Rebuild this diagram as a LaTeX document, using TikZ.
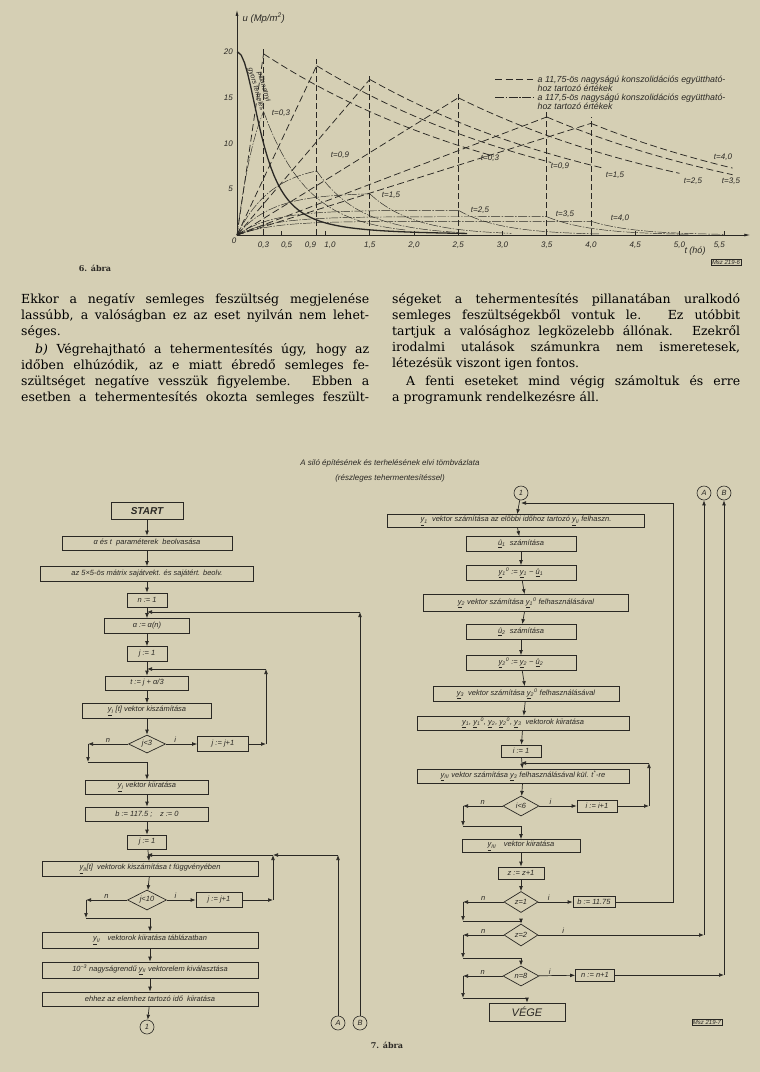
\documentclass[tikz,border=0pt]{standalone}
\usepackage{fontspec}
\setmainfont{DejaVu Serif}
\setsansfont{Liberation Sans}
\usetikzlibrary{positioning}
\usetikzlibrary{arrows.meta}
\usetikzlibrary{shapes.geometric}
\definecolor{paperbg}{HTML}{D5CFB4}
\definecolor{inkgray}{HTML}{2A2824}
\newcommand\flowfont{\sffamily\itshape\fontsize{7.5}{9}\selectfont}
\newcommand\bodyfont{\fontsize{12.5}{15}\selectfont}
\newcommand\vy[1]{\underline{y}\textsubscript{#1}}
\newcommand\vyo[1]{\underline{y}\textsubscript{#1}\textsuperscript{0}}
\newcommand\vu[1]{\underline{û}\textsubscript{#1}}
\newcommand\sorkiz[4]{\node[anchor=base west, inner sep=0pt, font=\bodyfont] (#1) at (#2,#3) {\makebox[348pt][s]{#4}};}
\newcommand\sorveg[4]{\node[anchor=base west, inner sep=0pt, font=\bodyfont] (#1) at (#2,#3) {#4};}

\begin{document}
\begin{tikzpicture}[x=1pt,y=-1pt]
    % Stílusok
    \tikzset{
        flow box/.style={
            draw=inkgray,
            rectangle,
            line width=0.7pt,
            inner sep=1pt,
            text=inkgray,
            font=\flowfont
        },
        flow dec/.style={
            draw=inkgray,
            diamond,
            aspect=2,
            line width=0.7pt,
            inner sep=0pt,
            text=inkgray,
            font=\flowfont
        },
        flow conn/.style={
            draw=inkgray,
            circle,
            line width=0.6pt,
            minimum size=14pt,
            inner sep=0pt,
            text=inkgray,
            font=\flowfont
        },
        flow line/.style={draw=inkgray, line width=0.7pt},
        flow arrow/.style={flow line, -{Latex[length=5pt,width=3.8pt]}},
        flow label/.style={font=\flowfont, text=inkgray, inner sep=1pt},
        plot label/.style={font=\sffamily\itshape\fontsize{8}{9.5}\selectfont, text=inkgray, inner sep=0.5pt},
        curve a/.style={inkgray, line width=0.75pt, dash pattern=on 7pt off 3.5pt},
        curve b/.style={inkgray, line width=0.45pt, dash pattern=on 9pt off 1.5pt on 1.5pt off 1.5pt}
    }

    % Háttér
    \fill[paperbg] (0,0) rectangle (760,1072);

    % Diagram (6. ábra)
    \begin{scope}[shift={(237,235)},x=88.5pt,y=9.15pt]
        \draw[inkgray, line width=0.8pt, -{Latex[length=6pt,width=3pt]}] (0,0) -- (5.8,0);
        \draw[inkgray, line width=0.8pt, -{Latex[length=6pt,width=3pt]}] (0,0) -- (0,24.6);
        \foreach \u in {5,10,15,20}
            \node[plot label, anchor=east] (yt\u) at (-0.04,\u) {\u};
        \node[plot label, anchor=north east] (yt0) at (0,-0.2) {0};
        \foreach \t/\s [count=\k] in {0.3/{0,3}, 0.56/{0,5}, 0.83/{0,9}, 1.05/{1,0}, 1.5/{1,5}, 2.0/{2,0},
                2.5/{2,5}, 3.0/{3,0}, 3.5/{3,5}, 4.0/{4,0}, 4.5/{4,5}, 5.0/{5,0}, 5.45/{5,5}}
            \node[plot label, anchor=north] (xt\k) at (\t,-0.7) {\s};
        \foreach \t in {0.5,1.0,2.0,3.0,4.5,5.0,5.5}
            \draw[inkgray, line width=0.5pt] (\t,0) -- (\t,0.4);

        % pillanatnyi terhelés
        \draw[inkgray, line width=1.3pt] (0,20) -- plot[domain=0.01:2.6, samples=70]
            (\x,{20/(1+(\x/0.3)^2.2)});

        % 11,75-ös együttható
        \foreach \tz/\pk/\te in {0.3/19.8/2.9, 0.9/18.5/3.55, 1.5/17/4.15, 2.5/15/5.0, 3.5/12.9/5.6, 4.0/12.2/5.6} {
            \draw[inkgray, line width=0.6pt, dash pattern=on 6pt off 3pt] (\tz,0) -- (\tz,\pk+0.7);
            \draw[curve a] (0,0) -- (\tz,\pk);
            \draw[curve a] plot[domain=\tz:\te, samples=20] (\x,{\pk*exp(-0.32*(\x-\tz))});
        }

        % 117,5-ös együttható
        \foreach \tz/\pk/\c/\te in {0.3/13.5/4/1.9, 0.9/7/2.5/2.5, 1.5/4.5/2.5/3.1, 2.5/2.7/2.5/4.1, 3.5/2.0/2.5/5.1, 4.0/1.5/2.5/5.5} {
            \draw[curve b] plot[domain=0:\tz, samples=30] (\x,{\pk*(1-exp(-\c*\x))/(1-exp(-\c*\tz))});
            \draw[curve b] plot[domain=\tz:\te, samples=25] (\x,{\pk*exp(-2.0*(\x-\tz))});
        }
    \end{scope}

    \node[plot label, rotate=-74, align=center, font=\sffamily\itshape\fontsize{7}{8}\selectfont] (pill) at (260,88) {pillanatnyi\\ gyors terhelés};
    \node[plot label, anchor=west, font=\sffamily\itshape\fontsize{9.5}{11}\selectfont] (ulab) at (242,18) {u (Mp/m\textsuperscript{2})};
    \node[plot label, font=\sffamily\itshape\fontsize{9}{11}\selectfont] (tlab) at (695,251) {t (hó)};
    \node[plot label, draw=inkgray, line width=0.5pt, inner sep=1pt, font=\sffamily\itshape\fontsize{6}{7}\selectfont] (msz6) at (726,262) {Msz 219-6};

    % görbék feliratai
    \node[plot label] (la1) at (490,158) {t=0,3};
    \node[plot label] (la2) at (560,166) {t=0,9};
    \node[plot label] (la3) at (615,175) {t=1,5};
    \node[plot label] (la4) at (693,181) {t=2,5};
    \node[plot label] (la5) at (731,181) {t=3,5};
    \node[plot label] (la6) at (723,157) {t=4,0};
    \node[plot label] (lb1) at (281,113) {t=0,3};
    \node[plot label] (lb2) at (340,155) {t=0,9};
    \node[plot label] (lb3) at (391,195) {t=1,5};
    \node[plot label] (lb4) at (480,210) {t=2,5};
    \node[plot label] (lb5) at (565,214) {t=3,5};
    \node[plot label] (lb6) at (620,218) {t=4,0};

    % jelmagyarázat
    \coordinate (lga1) at (495,79);
    \coordinate (lga2) at (533,79);
    \coordinate (lgb1) at (495,97);
    \coordinate (lgb2) at (533,97);
    \draw[curve a] (lga1) -- (lga2);
    \draw[curve b] (lgb1) -- (lgb2);
    \node[plot label, anchor=west, align=left, font=\sffamily\itshape\fontsize{8.8}{9.2}\selectfont] (lgat) at (537,83.5) {a 11,75-ös nagyságú konszolidációs együttható-\\hoz tartozó értékek};
    \node[plot label, anchor=west, align=left, font=\sffamily\itshape\fontsize{8.8}{9.2}\selectfont] (lgbt) at (537,101.5) {a 117,5-ös nagyságú konszolidációs együttható-\\hoz tartozó értékek};

    \node[font=\bfseries\fontsize{8}{10}\selectfont, text=inkgray] (abra6) at (95,268) {6. ábra};

    % Szöveg
    \sorkiz{l1}{21}{303}{Ekkor a negatív semleges feszültség megjelenése}
    \sorkiz{l2}{21}{319}{lassúbb, a valóságban ez az eset nyilván nem lehet-}
    \sorveg{l3}{21}{335}{séges.}
    \sorkiz{l4}{21}{353}{\hspace{14pt}\textit{b)} Végrehajtható a tehermentesítés úgy, hogy az}
    \sorkiz{l5}{21}{369}{időben elhúzódik, az e miatt ébredő semleges fe-}
    \sorkiz{l6}{21}{385}{szültséget negatíve vesszük figyelembe. Ebben a}
    \sorkiz{l7}{21}{401}{esetben a tehermentesítés okozta semleges feszült-}
    \sorkiz{r1t}{392}{303}{ségeket a tehermentesítés pillanatában uralkodó}
    \sorkiz{r2t}{392}{319}{semleges feszültségekből vontuk le. Ez utóbbit}
    \sorkiz{r3t}{392}{335}{tartjuk a valósághoz legközelebb állónak. Ezekről}
    \sorkiz{r4t}{392}{351}{irodalmi utalások számunkra nem ismeretesek,}
    \sorveg{r5t}{392}{367}{létezésük viszont igen fontos.}
    \sorkiz{r6t}{392}{385}{\hspace{14pt}A fenti eseteket mind végig számoltuk és erre}
    \sorveg{r7t}{392}{401}{a programunk rendelkezésre áll.}

    % Tömbvázlat
    \node[flow label, font=\sffamily\itshape\fontsize{8}{9.5}\selectfont] (cim1) at (390,463) {A siló építésének és terhelésének elvi tömbvázlata};
    \node[flow label, font=\sffamily\itshape\fontsize{8}{9.5}\selectfont] (cim2) at (390,478) {(részleges tehermentesítéssel)};

    % bal oszlop
    \node[flow box, minimum width=72pt, minimum height=17pt, font=\sffamily\itshape\bfseries\fontsize{10}{12}\selectfont] (start) at (147,511) {START};
    \node[flow box, minimum width=170pt, minimum height=14pt] (beolv) at (147,543) {α és t\ \ paraméterek\ \ beolvasása};
    \node[flow box, minimum width=213pt, minimum height=15pt] (matrix) at (147,574) {az 5×5-ös mátrix sajátvekt. és sajátért. beolv.};
    \node[flow box, minimum width=40pt, minimum height=14pt] (n1) at (147,600) {n := 1};
    \node[flow box, minimum width=85pt, minimum height=15pt] (alfa) at (147,626) {α := α(n)};
    \node[flow box, minimum width=40pt, minimum height=15pt] (j1a) at (147,654) {j := 1};
    \node[flow box, minimum width=83pt, minimum height=14pt] (tset) at (147,683) {t := j + α/3};
    \node[flow box, minimum width=129pt, minimum height=15pt] (y1calc) at (147,711) {\vy{I} [t] vektor kiszámítása};
    \node[flow dec, minimum width=37pt, minimum height=18pt] (dec1) at (147,744) {j<3};
    \node[flow box, minimum width=51pt, minimum height=15pt] (jinc1) at (223,744) {j := j+1};
    \node[flow box, minimum width=123pt, minimum height=14pt] (y1out) at (147,787) {\vy{I} vektor kiiratása};
    \node[flow box, minimum width=123pt, minimum height=14pt] (bset) at (147,814) {b := 117.5 ;\quad z := 0};
    \node[flow box, minimum width=39pt, minimum height=14pt] (j1b) at (147,842) {j := 1};
    \node[flow box, minimum width=216pt, minimum height=15pt] (y2calc) at (150,869) {\vy{II}[t]\ \ vektorok kiszámítása t függvényében};
    \node[flow dec, minimum width=39pt, minimum height=20pt] (dec2) at (147,900) {j<10};
    \node[flow box, minimum width=46pt, minimum height=15pt] (jinc2) at (219,900) {j := j+1};
    \node[flow box, minimum width=216pt, minimum height=16pt] (y2out) at (150,940) {\vy{II}\quad vektorok kiiratása táblázatban};
    \node[flow box, minimum width=216pt, minimum height=16pt] (elem) at (150,970) {10\textsuperscript{−3} nagyságrendű \vy{II} vektorelem kiválasztása};
    \node[flow box, minimum width=216pt, minimum height=14pt] (ido) at (150,999) {ehhez az elemhez tartozó idő\ \ kiiratása};
    \node[flow conn] (c1) at (147,1027) {1};
    \node[flow conn] (A) at (338,1023) {A};
    \node[flow conn] (B) at (360,1023) {B};

    \draw[flow arrow] (start) -- (beolv);
    \draw[flow arrow] (beolv) -- (matrix);
    \draw[flow arrow] (matrix) -- (n1);
    \draw[flow arrow] (n1) -- (alfa);
    \coordinate (m1) at (147,612);
    \coordinate (bfel) at (360,612);
    \draw[flow arrow] (B) -- (bfel);
    \draw[flow arrow] (bfel) -- (m1);
    \draw[flow arrow] (alfa) -- (j1a);
    \draw[flow arrow] (j1a) -- (tset);
    \coordinate (m2) at (147,669);
    \coordinate (jv1) at (266,744);
    \coordinate (jf1) at (266,669);
    \draw[flow arrow] (jinc1) -- (jv1);
    \draw[flow arrow] (jv1) -- (jf1);
    \draw[flow arrow] (jf1) -- (m2);
    \draw[flow arrow] (tset) -- (y1calc);
    \draw[flow arrow] (y1calc) -- (dec1);
    \draw[flow arrow] (dec1) -- node[flow label, above, pos=0.3] (i1) {i} (jinc1);
    \coordinate (nb1) at (88,744);
    \coordinate (na1) at (88,762);
    \draw[flow arrow] (dec1) -- node[flow label, above, pos=0.5] (nl1) {n} (nb1);
    \draw[flow arrow] (nb1) -- (na1);
    \draw[flow arrow] (na1) -| (y1out);
    \draw[flow arrow] (y1out) -- (bset);
    \draw[flow arrow] (bset) -- (j1b);
    \draw[flow arrow] (j1b) -- (y2calc);
    \coordinate (m3) at (147,855);
    \coordinate (jv2) at (273,900);
    \coordinate (jf2) at (273,855);
    \coordinate (afel) at (338,855);
    \draw[flow arrow] (jinc2) -- (jv2);
    \draw[flow arrow] (jv2) -- (jf2);
    \draw[flow arrow] (A) -- (afel);
    \draw[flow arrow] (afel) -- (jf2);
    \draw[flow arrow] (jf2) -- (m3);
    \draw[flow arrow] (y2calc) -- (dec2);
    \draw[flow arrow] (dec2) -- node[flow label, above, pos=0.3] (i2) {i} (jinc2);
    \coordinate (nb2) at (86,900);
    \coordinate (na2) at (86,918);
    \draw[flow arrow] (dec2) -- node[flow label, above, pos=0.5] (nl2) {n} (nb2);
    \draw[flow arrow] (nb2) -- (na2);
    \draw[flow arrow] (na2) -| (y2out);
    \draw[flow arrow] (y2out) -- (elem);
    \draw[flow arrow] (elem) -- (ido);
    \draw[flow arrow] (ido) -- (c1);

    % jobb oszlop
    \node[flow conn] (r1) at (521,493) {1};
    \node[flow conn] (A2) at (704,493) {A};
    \node[flow conn] (B2) at (724,493) {B};
    \node[flow box, minimum width=257pt, minimum height=13pt] (ry1) at (516,521) {\vy{1}\ \ vektor számítása az előbbi időhoz tartozó \vy{II} felhaszn.};
    \node[flow box, minimum width=110pt, minimum height=15pt] (ru1) at (521,544) {\vu{1}\ \ számítása};
    \node[flow box, minimum width=110pt, minimum height=15pt] (ry1z) at (521,573) {\vyo{1} := \vy{1} − \vu{1}};
    \node[flow box, minimum width=205pt, minimum height=17pt] (ry2) at (526,603) {\vy{2} vektor számítása \vyo{1} felhasználásával};
    \node[flow box, minimum width=110pt, minimum height=15pt] (ru2) at (521,632) {\vu{2}\ \ számítása};
    \node[flow box, minimum width=110pt, minimum height=15pt] (ry2z) at (521,663) {\vyo{2} := \vy{2} − \vu{2}};
    \node[flow box, minimum width=186pt, minimum height=15pt] (ry3) at (526,694) {\vy{3}\ \ vektor számítása \vyo{2} felhasználásával};
    \node[flow box, minimum width=212pt, minimum height=14pt] (rprint) at (523,723) {\vy{1}, \vyo{1}, \vy{2}, \vyo{2}, \vy{3}\ \ vektorok kiiratása};
    \node[flow box, minimum width=40pt, minimum height=12pt] (ri1) at (521,751) {i := 1};
    \node[flow box, minimum width=212pt, minimum height=14pt] (ry3c) at (523,776) {\vy{III} vektor számítása \vy{3} felhasználásával kül. t\textsuperscript{*}-re};
    \node[flow dec, minimum width=36pt, minimum height=20pt] (rdec1) at (521,806) {i<6};
    \node[flow box, minimum width=40pt, minimum height=12pt] (riinc) at (597,806) {i := i+1};
    \node[flow box, minimum width=118pt, minimum height=13pt] (ry3out) at (521,846) {\vy{III}\quad vektor kiiratása};
    \node[flow box, minimum width=46pt, minimum height=12pt] (rz) at (521,873) {z := z+1};
    \node[flow dec, minimum width=34pt, minimum height=21pt] (rdec2) at (521,902) {z=1};
    \node[flow box, minimum width=42pt, minimum height=11pt] (rbset) at (594,902) {b := 11.75};
    \node[flow dec, minimum width=34pt, minimum height=22pt] (rdec3) at (521,935) {z=2};
    \node[flow dec, minimum width=36pt, minimum height=20pt] (rdec4) at (521,976) {n=8};
    \node[flow box, minimum width=39pt, minimum height=12pt] (rninc) at (595,975) {n := n+1};
    \node[flow box, minimum width=76pt, minimum height=18pt, font=\sffamily\itshape\fontsize{11}{13}\selectfont] (vege) at (527,1012) {VÉGE};
    \node[plot label, draw=inkgray, line width=0.5pt, inner sep=1pt, font=\sffamily\itshape\fontsize{6}{7}\selectfont] (msz7) at (707,1022) {Msz 219-7};
    \node[font=\bfseries\fontsize{8}{10}\selectfont, text=inkgray] (abra7) at (387,1045) {7. ábra};

    \coordinate (rm1) at (521,503);
    \coordinate (rbv) at (673,902);
    \coordinate (rbf) at (673,503);
    \draw[flow arrow] (r1) -- (ry1);
    \draw[flow line] (rbset) -- (rbv) -- (rbf);
    \draw[flow arrow] (rbf) -- (rm1);
    \draw[flow arrow] (ry1) -- (ru1);
    \draw[flow arrow] (ru1) -- (ry1z);
    \draw[flow arrow] (ry1z) -- (ry2);
    \draw[flow arrow] (ry2) -- (ru2);
    \draw[flow arrow] (ru2) -- (ry2z);
    \draw[flow arrow] (ry2z) -- (ry3);
    \draw[flow arrow] (ry3) -- (rprint);
    \draw[flow arrow] (rprint) -- (ri1);
    \draw[flow arrow] (ri1) -- (ry3c);
    \coordinate (rm2) at (521,763);
    \coordinate (riv) at (649,806);
    \coordinate (rif) at (649,763);
    \draw[flow arrow] (riinc) -- (riv);
    \draw[flow arrow] (riv) -- (rif);
    \draw[flow arrow] (rif) -- (rm2);
    \draw[flow arrow] (ry3c) -- (rdec1);
    \draw[flow arrow] (rdec1) -- node[flow label, above, pos=0.3] (ri1l) {i} (riinc);
    \coordinate (rnb1) at (463,806);
    \coordinate (rna1) at (463,826);
    \draw[flow arrow] (rdec1) -- node[flow label, above, pos=0.5] (rn1l) {n} (rnb1);
    \draw[flow arrow] (rnb1) -- (rna1);
    \draw[flow arrow] (rna1) -| (ry3out);
    \draw[flow arrow] (ry3out) -- (rz);
    \draw[flow arrow] (rz) -- (rdec2);
    \draw[flow arrow] (rdec2) -- node[flow label, above, pos=0.3] (ri2l) {i} (rbset);
    \coordinate (rnb2) at (463,902);
    \coordinate (rna2) at (463,921);
    \draw[flow arrow] (rdec2) -- node[flow label, above, pos=0.5] (rn2l) {n} (rnb2);
    \draw[flow arrow] (rnb2) -- (rna2);
    \draw[flow arrow] (rna2) -| (rdec3);
    \coordinate (rav) at (704,935);
    \draw[flow arrow] (rdec3) -- node[flow label, above, pos=0.15] (ri3l) {i} (rav);
    \draw[flow arrow] (rav) -- (A2);
    \coordinate (rnb3) at (463,935);
    \coordinate (rna3) at (463,958);
    \draw[flow arrow] (rdec3) -- node[flow label, above, pos=0.5] (rn3l) {n} (rnb3);
    \draw[flow arrow] (rnb3) -- (rna3);
    \draw[flow arrow] (rna3) -| (rdec4);
    \draw[flow arrow] (rdec4) -- node[flow label, above, pos=0.3] (ri4l) {i} (rninc);
    \coordinate (rbv2) at (724,975);
    \draw[flow arrow] (rninc) -- (rbv2);
    \draw[flow arrow] (rbv2) -- (B2);
    \coordinate (rnb4) at (463,976);
    \coordinate (rna4) at (463,998);
    \draw[flow arrow] (rdec4) -- node[flow label, above, pos=0.5] (rn4l) {n} (rnb4);
    \draw[flow arrow] (rnb4) -- (rna4);
    \draw[flow arrow] (rna4) -| (vege);
\end{tikzpicture}
\end{document}
